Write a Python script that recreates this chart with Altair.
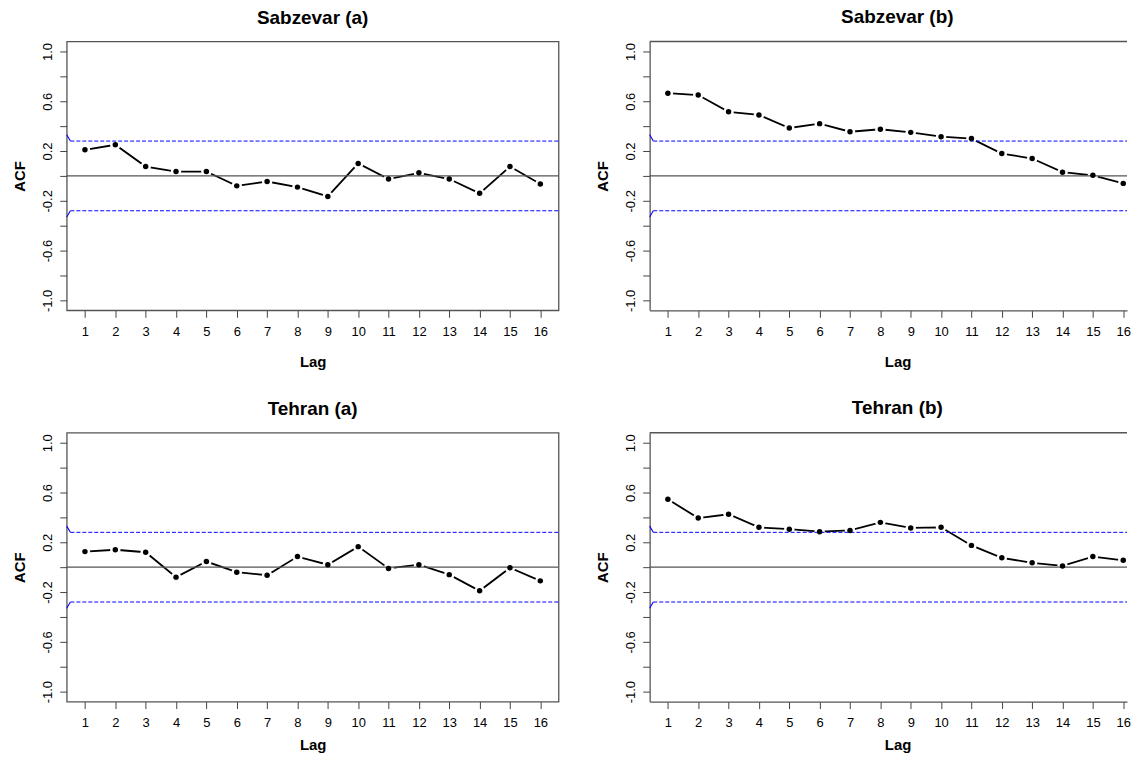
import altair as alt
import pandas as pd

lags = list(range(1, 17))
sabzevar_a = [0.21, 0.25, 0.075, 0.035, 0.035, -0.08, -0.045, -0.09, -0.165, 0.10, -0.025, 0.025, -0.025, -0.14, 0.075, -0.065]
sabzevar_b = [0.665, 0.65, 0.515, 0.49, 0.385, 0.42, 0.355, 0.375, 0.35, 0.315, 0.30, 0.18, 0.14, 0.03, 0.005, -0.06]
tehran_a = [0.125, 0.14, 0.12, -0.08, 0.045, -0.04, -0.065, 0.085, 0.02, 0.165, -0.01, 0.02, -0.06, -0.19, -0.005, -0.11]
tehran_b = [0.545, 0.395, 0.425, 0.32, 0.305, 0.285, 0.295, 0.36, 0.315, 0.32, 0.175, 0.075, 0.035, 0.01, 0.085, 0.055]

titles = ["Sabzevar (a)", "Sabzevar (b)", "Tehran (a)", "Tehran (b)"]
series = [sabzevar_a, sabzevar_b, tehran_a, tehran_b]

conf_limit = 0.28
conf_start = 0.33
y_ticks = [-1.0, -0.8, -0.6, -0.4, -0.2, 0.0, 0.2, 0.4, 0.6, 0.8, 1.0]
y_labelled = ["-1.0", "-0.6", "-0.2", "0.2", "0.6", "1.0"]

FONT = "Liberation Sans"
XMIN = 0.4
YMIN, YMAX = -1.08, 1.08
DIAG_END = 0.52
BOX = "#555555"
PANEL_H = 270


def panel(title, values, xmax, width, right, bottom):
    df = pd.DataFrame({"lag": lags, "acf": values})
    xs = alt.Scale(domain=[XMIN, xmax], nice=False, zero=False)
    ys = alt.Scale(domain=[YMIN, YMAX], nice=False, zero=False)
    lab = "(datum.value < 0 ? '-' : '') + format(abs(datum.value), '.1f')"
    label_expr = "indexof(" + str(y_labelled) + ", " + lab + ") >= 0 ? " + lab + " : ''"
    x_axis_kw = dict(values=lags, title="Lag", format="d", labelFlush=False,
                     domain=right, domainColor=BOX, domainWidth=1.3,
                     titlePadding=8 if bottom else 16)
    if right:
        x_axis_kw["titleX"] = 249
    x_axis = alt.Axis(**x_axis_kw)
    y_axis = alt.Axis(values=y_ticks, title="ACF", labelExpr=label_expr, labelAngle=270,
                      labelAlign="center", labelBaseline="bottom", labelFlush=False,
                      domain=right, domainColor=BOX, domainWidth=1.3)

    def xe(f):
        return alt.X(f, scale=xs, axis=x_axis)

    def ye(f):
        return alt.Y(f, scale=ys, axis=y_axis)

    base = alt.Chart(df)
    line = base.mark_line(color="black", strokeWidth=1.8).encode(x=xe("lag:Q"), y=ye("acf:Q"))
    halo = base.mark_circle(color="white", opacity=1, size=110).encode(x=xe("lag:Q"), y=ye("acf:Q"))
    pts = base.mark_circle(color="black", opacity=1, size=30).encode(x=xe("lag:Q"), y=ye("acf:Q"))

    zero_df = pd.DataFrame({"x1": [XMIN], "x2": [xmax], "y": [0.0]})
    zero = alt.Chart(zero_df).mark_rule(color="#555555", strokeWidth=1.4).encode(
        x=xe("x1:Q"), x2="x2:Q", y=ye("y:Q"))

    band_df = pd.DataFrame({"x1": [DIAG_END, DIAG_END], "x2": [xmax, xmax], "y": [conf_limit, -conf_limit]})
    band = alt.Chart(band_df).mark_rule(color="#0000ff", strokeWidth=1, strokeDash=[4, 2]).encode(
        x=xe("x1:Q"), x2="x2:Q", y=ye("y:Q"))

    diag_df = pd.DataFrame({"x1": [XMIN, XMIN], "x2": [DIAG_END, DIAG_END],
                            "y1": [conf_start, -conf_start], "y2": [conf_limit, -conf_limit]})
    diag = alt.Chart(diag_df).mark_rule(color="#0000ff", strokeWidth=1.1).encode(
        x=xe("x1:Q"), x2="x2:Q", y=ye("y1:Q"), y2="y2:Q")

    layers = [line, halo, zero, band, diag, pts]
    if right:
        top_df = pd.DataFrame({"x1": [XMIN], "x2": [xmax], "y": [YMAX]})
        top = alt.Chart(top_df).mark_rule(color=BOX, strokeWidth=1.3).encode(
            x=xe("x1:Q"), x2="x2:Q", y=ye("y:Q"))
        layers.append(top)

    t = alt.TitleParams(text=title, fontSize=19, font=FONT, fontWeight="bold", color="black",
                        offset=14, frame="group", anchor="middle", dx=9 if right else 0)
    view = alt.ViewBackground(stroke="transparent") if right else alt.ViewBackground(stroke=BOX, strokeWidth=1.3)
    return alt.layer(*layers).properties(width=width, height=PANEL_H, title=t, view=view)


W_LEFT = 494
W_RIGHT = 479.5
XMAX_LEFT = 16.6
XMAX_RIGHT = XMIN + (16.6 - XMIN) * W_RIGHT / W_LEFT

p = [panel(titles[i], series[i], XMAX_RIGHT if i % 2 else XMAX_LEFT,
           W_RIGHT if i % 2 else W_LEFT, bool(i % 2), i >= 2) for i in range(4)]

chart = alt.vconcat(
    alt.hconcat(p[0], p[1], spacing=34.5),
    alt.hconcat(p[2], p[3], spacing=34.5),
    spacing=28,
).properties(
    padding={"left": 3, "top": -3, "right": 0, "bottom": 0}
).configure_axis(
    labelFont=FONT, labelFontSize=13, labelColor="black",
    titleFont=FONT, titleFontSize=15, titleFontWeight="bold", titleColor="black",
    tickColor="#444444", tickSize=7, tickWidth=1, grid=False,
    labelPadding=6,
).configure_axisX(labelPadding=8).configure_axisY(labelPadding=5, titlePadding=14.5)

chart.save("out.html", embed_options={"renderer": "svg", "actions": False})
